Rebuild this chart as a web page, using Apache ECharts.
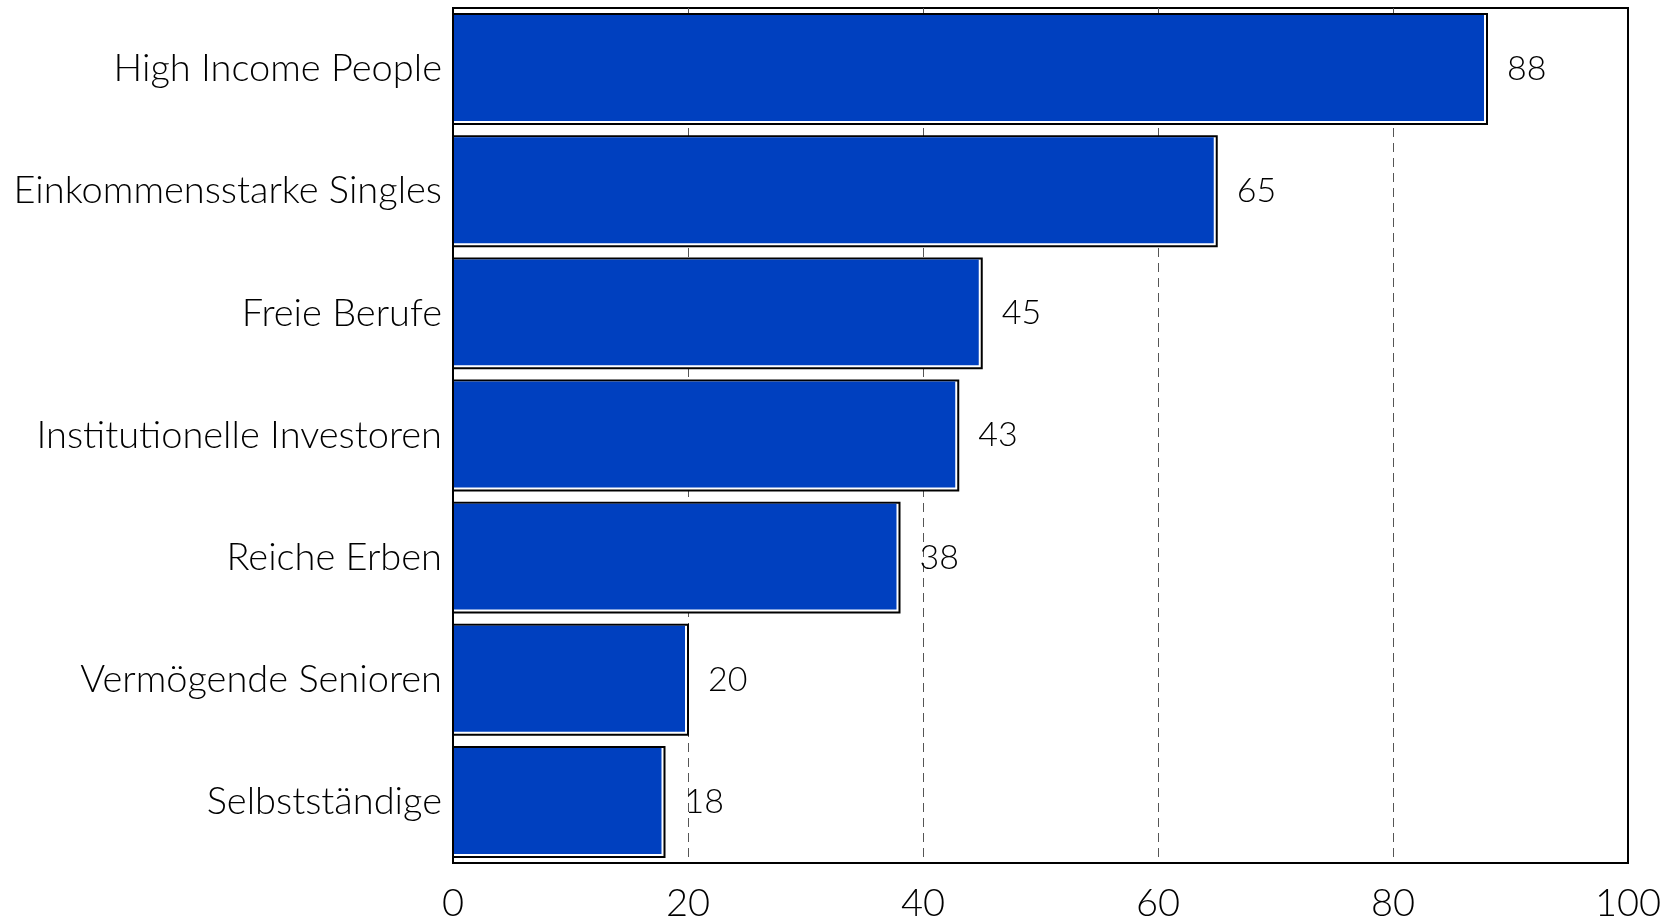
<!DOCTYPE html>
<html>
<head>
<meta charset="utf-8">
<script src="https://cdn.jsdelivr.net/npm/echarts@6/dist/echarts.min.js"></script>
<style>
html,body{margin:0;padding:0;background:#fff;}
#chart{width:1670px;height:920px;}
</style>
</head>
<body>
<div id="chart"></div>
<script>
const categories = [
  "High Income People",
  "Einkommensstarke Singles",
  "Freie Berufe",
  "Institutionelle Investoren",
  "Reiche Erben",
  "Vermögende Senioren",
  "Selbstständige"
];
const values = [88, 65, 45, 43, 38, 20, 18];
const xTicks = [0, 20, 40, 60, 80, 100];

const FONT = "Lato";
const WEIGHT = 300;
const BLUE = "#0040BF";

const chart = echarts.init(document.getElementById('chart'), null, {renderer: 'canvas'});

const option = {
  animation: false,
  backgroundColor: '#fff',
  grid: {
    left: 453, top: 8, width: 1175, height: 855,
    outerBoundsMode: 'none', containLabel: false,
    show: true, borderColor: '#000', borderWidth: 2, backgroundColor: 'transparent'
  },
  xAxis: {
    type: 'value',
    min: xTicks[0],
    max: xTicks[xTicks.length - 1],
    interval: 20,
    axisLine: {show: true, lineStyle: {color: '#000', width: 2}},
    axisTick: {show: false},
    axisLabel: {color: '#000', fontSize: 38, fontFamily: FONT, fontWeight: WEIGHT, margin: 22},
    splitLine: {show: true, showMinLine: false, showMaxLine: false,
                lineStyle: {color: '#555', width: 1, type: [9, 6]}}
  },
  yAxis: {
    type: 'category',
    data: categories,
    inverse: true,
    axisLine: {show: false},
    axisTick: {show: false},
    splitLine: {show: false},
    axisLabel: {color: '#000', fontSize: 38, fontFamily: FONT, fontWeight: WEIGHT, margin: 11,
                padding: [14, 0, 0, 0]}
  },
  series: [
    {
      type: 'bar',
      data: values,
      barCategoryGap: '10%',
      itemStyle: {color: 'rgba(0,0,0,0)'},
      label: {
        show: true, position: 'right', distance: 20,
        color: '#000', fontSize: 34, fontFamily: FONT, fontWeight: WEIGHT,
        padding: [5, 0, 0, 0]
      },
      z: 1
    },
    {
      type: 'custom',
      data: values.map((v, i) => [i, v]),
      encode: {x: 1, y: 0},
      z: 3,
      renderItem: function (params, api) {
        const cat = api.value(0);
        const v = api.value(1);
        const start = api.coord([0, cat]);
        const end = api.coord([v, cat]);
        const band = api.size([0, 1])[1];
        const h = band * 0.9;
        const x = start[0];
        const y = start[1] - h / 2;
        const w = end[0] - start[0];
        return {
          type: 'group',
          children: [
            {type: 'rect', shape: {x: x, y: y, width: w, height: h},
             style: {fill: '#fff', stroke: '#000', lineWidth: 2}},
            {type: 'rect', shape: {x: x + 1, y: y + 1, width: w - 4, height: h - 4},
             style: {fill: BLUE}}
          ]
        };
      }
    }
  ]
};
chart.setOption(option);
</script>
</body>
</html>
